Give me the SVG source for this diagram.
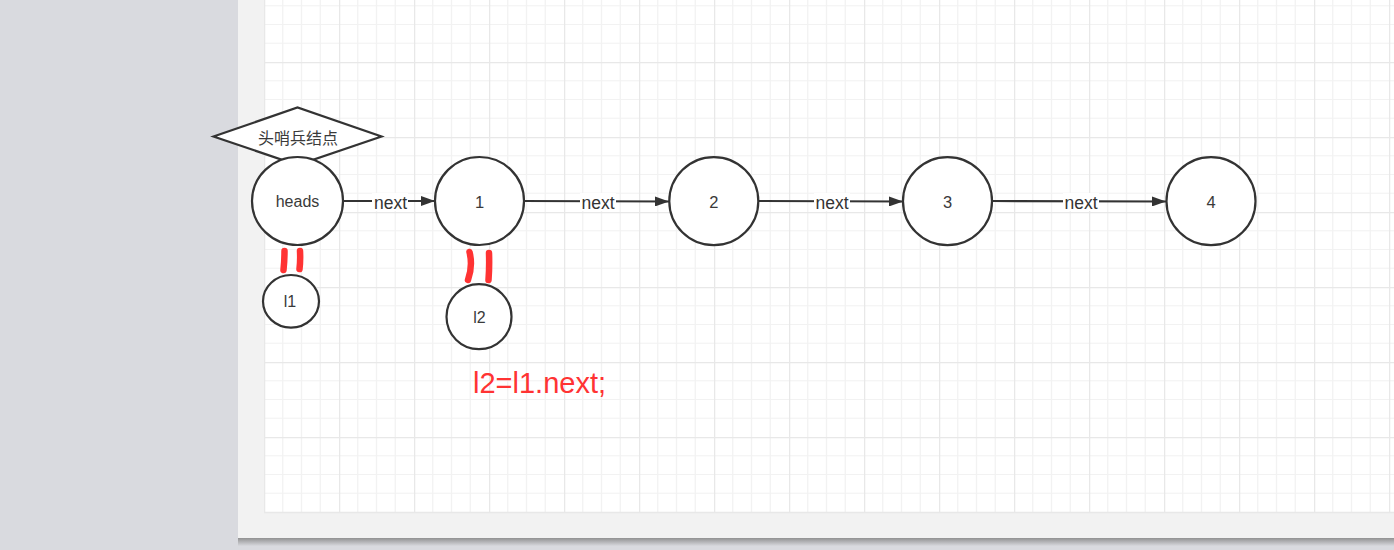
<svg xmlns="http://www.w3.org/2000/svg" width="1394" height="550" viewBox="0 0 1394 550">
<style>
.node{fill:#fff;stroke:#333;stroke-width:2.2}
.lbl{font-family:"Liberation Sans","Noto Sans CJK SC",sans-serif;fill:#3a3a3a;text-anchor:middle}
.edge{stroke:#333;stroke-width:2.2;fill:none}
.elbl{font-family:"Liberation Sans",sans-serif;font-size:17.5px;fill:#333;text-anchor:middle}
.mark{stroke:#ff3333;stroke-width:6.5;stroke-linecap:round;fill:none}
</style>
<defs>
<pattern id="grid" x="264" y="-13" width="75" height="75" patternUnits="userSpaceOnUse">
<rect width="75" height="75" fill="#fff"/>
<path d="M18.75 0V75M37.5 0V75M56.25 0V75M0 18.75H75M0 37.5H75M0 56.25H75" stroke="#f2f2f2" stroke-width="1.2"/>
<path d="M0.5 0V75M0 0.5H75" stroke="#e8e8e8" stroke-width="1.5"/>
</pattern>
<linearGradient id="shadow" x1="0" y1="0" x2="0" y2="1">
<stop offset="0" stop-color="#888"/>
<stop offset="1" stop-color="#d8d9de"/>
</linearGradient>
<marker id="arrow" viewBox="0 0 14 10" refX="14" refY="5" markerWidth="14" markerHeight="10" markerUnits="userSpaceOnUse" orient="auto">
<path d="M0 0L14 5L0 10Z" fill="#333"/>
</marker>
</defs>
<rect x="0" y="0" width="1394" height="550" fill="#d9dadf"/>
<rect x="238" y="537" width="1156" height="9" fill="url(#shadow)"/>
<rect x="238" y="0" width="1156" height="538" fill="#f2f2f2"/>
<rect x="264" y="0" width="1130" height="512" fill="url(#grid)"/>
<path d="M264 512.5H1394" stroke="#e8e8e8" stroke-width="1.5"/>

<g id="connectors">
<line class="edge" x1="343" y1="201" x2="435" y2="201" marker-end="url(#arrow)"/>
<line class="edge" x1="524" y1="201" x2="669" y2="201.5" marker-end="url(#arrow)"/>
<line class="edge" x1="758" y1="201" x2="903" y2="201.5" marker-end="url(#arrow)"/>
<line class="edge" x1="992" y1="201" x2="1166" y2="201.5" marker-end="url(#arrow)"/>
<rect x="372" y="193" width="36" height="18" fill="#fff"/>
<text class="elbl" x="390.5" y="209">next</text>
<rect x="580" y="193" width="36" height="18" fill="#fff"/>
<text class="elbl" x="598" y="209">next</text>
<rect x="814" y="193" width="36" height="18" fill="#fff"/>
<text class="elbl" x="832" y="209">next</text>
<rect x="1063" y="193" width="36" height="18" fill="#fff"/>
<text class="elbl" x="1081" y="209">next</text>
</g>

<g id="sentinel">
<polygon class="node" points="213.5,136.5 297.5,107.5 381.5,136.5 297.5,165"/>
<text class="lbl" x="298" y="143.5" font-size="16">头哨兵结点</text>
</g>
<g id="heads">
<ellipse class="node" cx="297.5" cy="201" rx="45.5" ry="44"/>
<text class="lbl" x="297.5" y="207" font-size="16">heads</text>
</g>
<g id="n1">
<ellipse class="node" cx="479.5" cy="201" rx="44.5" ry="44"/>
<text class="lbl" x="479.5" y="207.5" font-size="16.5">1</text>
</g>
<g id="n2">
<ellipse class="node" cx="713.8" cy="201.2" rx="44.5" ry="44"/>
<text class="lbl" x="713.8" y="207.5" font-size="16.5">2</text>
</g>
<g id="n3">
<ellipse class="node" cx="947.5" cy="201.2" rx="44.5" ry="44"/>
<text class="lbl" x="947.5" y="207.5" font-size="16.5">3</text>
</g>
<g id="n4">
<ellipse class="node" cx="1211" cy="201.2" rx="44.5" ry="44"/>
<text class="lbl" x="1211" y="207.5" font-size="16.5">4</text>
</g>
<g id="l1">
<ellipse class="node" cx="291" cy="301.3" rx="28" ry="26.3"/>
<text class="lbl" x="290" y="307" font-size="16">l1</text>
</g>
<g id="l2">
<ellipse class="node" cx="479" cy="316.7" rx="32.5" ry="32.5"/>
<text class="lbl" x="479.5" y="322.5" font-size="16">l2</text>
</g>

<g id="marks">
<path class="mark" d="M284.5 251Q284.5 261 283.5 270"/>
<path class="mark" d="M300 251Q300.5 261 299.5 269"/>
<path class="mark" d="M469.5 252Q473 266 468 280"/>
<path class="mark" d="M489 253Q489.5 267 488.5 280"/>
</g>
<text x="473" y="393" font-family="'Liberation Sans',sans-serif" font-size="29" fill="#ff3333">l2=l1.next;</text>
</svg>
